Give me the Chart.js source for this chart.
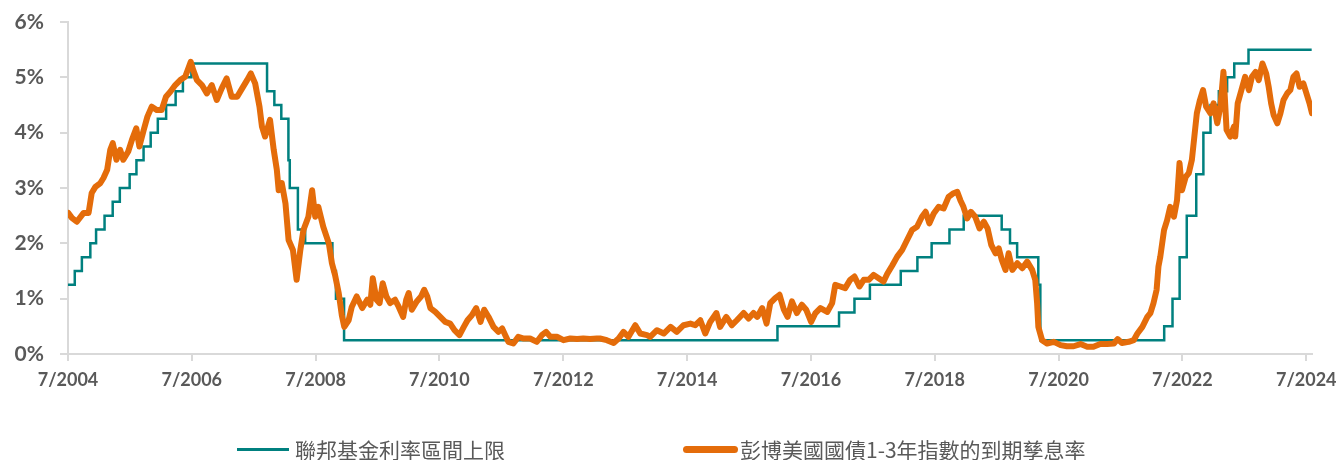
<!DOCTYPE html>
<html>
<head>
<meta charset="utf-8">
<script src="https://cdn.jsdelivr.net/npm/chart.js@4/dist/chart.umd.min.js"></script>
<style>
  html, body { margin: 0; padding: 0; background: #ffffff; }
  #wrap { position: relative; width: 1337px; height: 460px; overflow: hidden; }
  #c { position: absolute; left: 0; top: 0; }
  .lg-line { position: absolute; }
  .lg-text { position: absolute; font-family: "Noto Sans CJK TC", "Noto Sans", sans-serif; font-size: 21px; color: #595959; line-height: 24px; white-space: nowrap; }
</style>
</head>
<body>
<div id="wrap">
  <canvas id="c" width="1337" height="460"></canvas>
  <div class="lg-line" style="left:237px; top:448px; width:52px; height:3px; background:#00807f;"></div>
  <div class="lg-text" id="lg1" style="left:295px; top:437px;"></div>
  <div class="lg-line" style="left:683px; top:446px; width:55px; height:7px; border-radius:4px; background:#e46c0a;"></div>
  <div class="lg-text" id="lg2" style="left:740px; top:437px;"></div>
</div>
<script>
// ---- Data ----
const seriesNames = ['聯邦基金利率區間上限', '彭博美國國債1-3年指數的到期孳息率'];

const tickYears = [2004, 2006, 2008, 2010, 2012, 2014, 2016, 2018, 2020, 2022, 2024];
const tickLabels = ['7/2004', '7/2006', '7/2008', '7/2010', '7/2012', '7/2014', '7/2016', '7/2018', '7/2020', '7/2022', '7/2024'];
const yTicks = [0, 1, 2, 3, 4, 5, 6];

// Fed funds target range upper bound (effective from date)
const fedDates = ['2004-07-01','2004-08-10','2004-09-21','2004-11-10','2004-12-14','2005-02-02','2005-03-22','2005-05-03','2005-06-30','2005-08-09','2005-09-20','2005-11-01','2005-12-13','2006-01-31','2006-03-28','2006-05-10','2006-06-29','2007-09-18','2007-10-31','2007-12-11','2008-01-22','2008-01-30','2008-03-18','2008-04-30','2008-10-08','2008-10-29','2008-12-16','2015-12-16','2016-12-14','2017-03-15','2017-06-14','2017-12-13','2018-03-21','2018-06-13','2018-09-26','2018-12-19','2019-07-31','2019-09-18','2019-10-30','2020-03-03','2020-03-15','2022-03-16','2022-05-04','2022-06-15','2022-07-27','2022-09-21','2022-11-02','2022-12-14','2023-02-01','2023-03-22','2023-05-03','2023-07-26','2024-08-02'];
const fedRates = [1.25,1.5,1.75,2.0,2.25,2.5,2.75,3.0,3.25,3.5,3.75,4.0,4.25,4.5,4.75,5.0,5.25,4.75,4.5,4.25,3.5,3.0,2.25,2.0,1.5,1.0,0.25,0.5,0.75,1.0,1.25,1.5,1.75,2.0,2.25,2.5,2.25,2.0,1.75,1.25,0.25,0.5,1.0,1.75,2.5,3.25,4.0,4.5,4.75,5.0,5.25,5.5,5.5];

// Bloomberg US Treasury 1-3Y index yield to maturity (decimal year, %)
const yieldDates = [2004.50,2004.56,2004.64,2004.75,2004.83,2004.88,2004.94,2005.02,2005.07,2005.13,2005.18,2005.22,2005.28,2005.34,2005.39,2005.47,2005.53,2005.60,2005.65,2005.72,2005.78,2005.85,2005.93,2006.01,2006.08,2006.15,2006.23,2006.31,2006.39,2006.44,2006.48,2006.52,2006.58,2006.66,2006.74,2006.82,2006.90,2006.98,2007.06,2007.14,2007.23,2007.31,2007.39,2007.45,2007.52,2007.59,2007.63,2007.68,2007.76,2007.82,2007.87,2007.90,2007.95,2008.01,2008.06,2008.13,2008.19,2008.25,2008.30,2008.38,2008.44,2008.49,2008.54,2008.62,2008.71,2008.76,2008.81,2008.87,2008.92,2008.96,2009.03,2009.08,2009.16,2009.25,2009.33,2009.38,2009.42,2009.48,2009.53,2009.58,2009.64,2009.70,2009.78,2009.84,2009.91,2009.96,2010.00,2010.05,2010.13,2010.20,2010.25,2010.30,2010.35,2010.43,2010.51,2010.59,2010.67,2010.74,2010.82,2010.89,2010.95,2011.02,2011.09,2011.16,2011.22,2011.29,2011.37,2011.45,2011.51,2011.56,2011.61,2011.69,2011.77,2011.86,2011.96,2012.07,2012.15,2012.22,2012.29,2012.40,2012.50,2012.61,2012.72,2012.82,2012.93,2013.04,2013.09,2013.20,2013.31,2013.39,2013.47,2013.55,2013.66,2013.74,2013.85,2013.90,2014.01,2014.12,2014.23,2014.33,2014.44,2014.55,2014.63,2014.71,2014.79,2014.87,2014.97,2015.03,2015.13,2015.22,2015.30,2015.41,2015.49,2015.57,2015.63,2015.71,2015.78,2015.84,2015.92,2015.99,2016.06,2016.12,2016.19,2016.27,2016.35,2016.42,2016.50,2016.57,2016.65,2016.76,2016.84,2016.89,2016.97,2017.05,2017.13,2017.20,2017.28,2017.35,2017.43,2017.51,2017.59,2017.67,2017.73,2017.81,2017.89,2017.97,2018.05,2018.13,2018.21,2018.29,2018.35,2018.41,2018.48,2018.56,2018.64,2018.72,2018.79,2018.86,2018.91,2018.96,2019.02,2019.08,2019.15,2019.22,2019.29,2019.35,2019.41,2019.48,2019.53,2019.58,2019.64,2019.69,2019.75,2019.83,2019.91,2019.99,2020.07,2020.12,2020.15,2020.17,2020.23,2020.31,2020.42,2020.53,2020.63,2020.74,2020.85,2020.96,2021.06,2021.17,2021.28,2021.39,2021.45,2021.52,2021.63,2021.71,2021.77,2021.85,2021.93,2021.98,2022.03,2022.08,2022.11,2022.14,2022.20,2022.25,2022.30,2022.36,2022.41,2022.45,2022.49,2022.55,2022.60,2022.65,2022.69,2022.73,2022.78,2022.83,2022.88,2022.95,2023.00,2023.06,2023.11,2023.16,2023.21,2023.27,2023.33,2023.35,2023.39,2023.45,2023.51,2023.57,2023.62,2023.68,2023.73,2023.79,2023.85,2023.89,2023.93,2023.97,2024.03,2024.08,2024.13,2024.19,2024.24,2024.29,2024.34,2024.39,2024.45,2024.50,2024.55,2024.59];
const yieldValues = [2.55,2.46,2.39,2.55,2.55,2.91,3.02,3.09,3.18,3.33,3.69,3.81,3.51,3.69,3.51,3.66,3.87,4.08,3.75,4.05,4.29,4.47,4.41,4.41,4.65,4.74,4.86,4.95,5.01,5.16,5.28,5.13,4.95,4.86,4.71,4.86,4.59,4.80,4.98,4.65,4.65,4.80,4.95,5.07,4.89,4.47,4.11,3.93,4.23,3.69,3.33,2.96,3.09,2.72,2.06,1.88,1.34,1.88,2.24,2.48,2.96,2.48,2.66,2.30,2.00,1.64,1.43,1.10,0.70,0.49,0.61,0.85,1.04,0.83,0.98,0.89,1.37,0.98,0.92,1.28,1.04,0.92,0.98,0.85,0.67,0.98,1.10,0.80,0.95,1.04,1.16,1.04,0.83,0.76,0.67,0.58,0.55,0.43,0.34,0.49,0.61,0.70,0.83,0.58,0.80,0.67,0.49,0.40,0.46,0.34,0.22,0.19,0.31,0.28,0.28,0.22,0.34,0.40,0.31,0.31,0.25,0.28,0.27,0.28,0.27,0.28,0.28,0.25,0.20,0.28,0.40,0.31,0.52,0.37,0.34,0.31,0.43,0.37,0.49,0.40,0.52,0.55,0.52,0.61,0.37,0.58,0.74,0.49,0.67,0.52,0.61,0.74,0.64,0.74,0.67,0.83,0.55,0.92,1.01,1.07,0.80,0.67,0.95,0.74,0.89,0.80,0.58,0.74,0.83,0.76,0.92,1.25,1.22,1.19,1.34,1.40,1.22,1.34,1.34,1.43,1.37,1.31,1.45,1.60,1.76,1.88,2.06,2.24,2.30,2.48,2.57,2.36,2.54,2.66,2.63,2.84,2.90,2.93,2.78,2.66,2.45,2.57,2.48,2.27,2.39,2.27,1.97,1.82,1.91,1.70,1.52,1.82,1.52,1.64,1.55,1.67,1.52,1.34,0.92,0.49,0.25,0.19,0.22,0.16,0.14,0.14,0.18,0.13,0.13,0.18,0.18,0.19,0.27,0.20,0.22,0.25,0.37,0.49,0.67,0.74,0.92,1.16,1.58,1.76,2.24,2.42,2.66,2.48,2.78,3.45,2.96,3.20,3.27,3.51,3.93,4.35,4.59,4.77,4.47,4.35,4.53,4.17,4.47,5.10,4.05,3.93,4.11,3.93,4.53,4.77,5.01,4.77,5.01,5.10,4.95,5.25,5.07,4.83,4.53,4.32,4.17,4.35,4.59,4.71,4.77,5.01,5.07,4.83,4.89,4.71,4.53,4.35];

// ---- Helpers ----
function decYear(s) {
  const [y, m, d] = s.split('-').map(Number);
  const t0 = Date.UTC(y, 0, 1), t1 = Date.UTC(y + 1, 0, 1);
  return y + (Date.UTC(y, m - 1, d) - t0) / (t1 - t0);
}
const tickValues = tickYears.map(y => decYear(y + '-07-01'));
const xMin = decYear('2004-07-01');
const xMax = 2024.59;

document.getElementById('lg1').textContent = seriesNames[0];
document.getElementById('lg2').textContent = seriesNames[1];

const fedData = fedDates.map((d, i) => ({ x: decYear(d), y: fedRates[i] }));
const yieldData = yieldDates.map((d, i) => ({ x: d, y: yieldValues[i] }));

const axisGrey = '#d9d9d9';
const textGrey = '#595959';

new Chart(document.getElementById('c'), {
  type: 'line',
  data: {
    datasets: [
      {
        label: seriesNames[0],
        data: fedData,
        borderColor: '#00807f',
        borderWidth: 2.5,
        stepped: true,
        pointRadius: 0,
        fill: false,
        order: 1
      },
      {
        label: seriesNames[1],
        data: yieldData,
        borderColor: '#e46c0a',
        borderWidth: 6,
        tension: 0,
        pointRadius: 0,
        borderJoinStyle: 'round',
        borderCapStyle: 'round',
        fill: false,
        order: 0
      }
    ]
  },
  options: {
    responsive: false,
    animation: false,
    events: [],
    layout: { padding: { top: 22, left: 0, right: 25, bottom: 66 } },
    plugins: { legend: { display: false }, tooltip: { enabled: false }, title: { display: false } },
    scales: {
      x: {
        type: 'linear',
        min: xMin,
        max: xMax,
        afterBuildTicks: (scale) => { scale.ticks = tickValues.map(v => ({ value: v })); },
        afterFit: (scale) => { scale.height = 40; scale.paddingLeft = 0; scale.paddingRight = 0; },
        ticks: {
          autoSkip: false,
          maxRotation: 0,
          padding: 8,
          color: textGrey,
          font: { family: 'Lato', size: 18, weight: 'bold' },
          callback: (v) => { const i = tickValues.findIndex(t => Math.abs(t - v) < 1e-6); return i >= 0 ? tickLabels[i] : ''; }
        },
        grid: { drawOnChartArea: false, drawTicks: true, tickLength: 7, color: axisGrey, lineWidth: 2 },
        border: { display: true, color: axisGrey, width: 2 }
      },
      y: {
        type: 'linear',
        min: 0,
        max: 6,
        afterBuildTicks: (scale) => { scale.ticks = yTicks.map(v => ({ value: v })); },
        afterFit: (scale) => { scale.width = 68; scale.paddingTop = 0; scale.paddingBottom = 0; },
        ticks: {
          padding: 16,
          color: textGrey,
          font: { family: 'Lato', size: 21, weight: 'bold' },
          callback: (v) => v + '%'
        },
        grid: { drawOnChartArea: false, drawTicks: true, tickLength: 8, color: axisGrey, lineWidth: 2 },
        border: { display: true, color: axisGrey, width: 2 }
      }
    }
  }
});
</script>
</body>
</html>
